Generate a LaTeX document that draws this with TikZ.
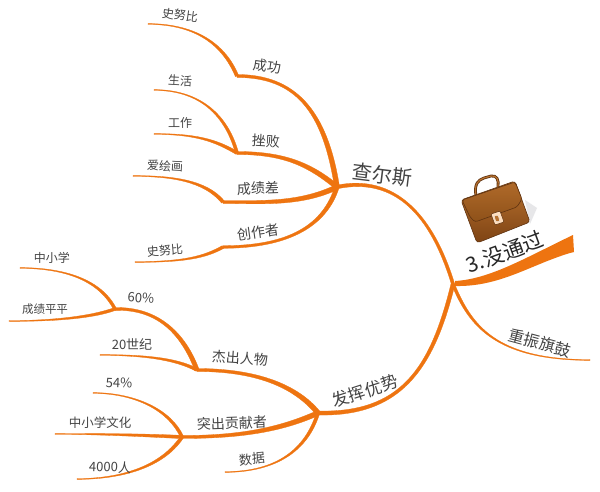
\documentclass[tikz,border=0pt]{standalone}
\usepackage{fontspec}
\setmainfont{Noto Sans CJK SC}
\usetikzlibrary{calc}
\definecolor{branch}{HTML}{EE7410}
\definecolor{txt}{HTML}{444444}
\definecolor{caseA}{HTML}{B8722F}
\definecolor{caseB}{HTML}{7E4314}
\definecolor{caseC}{HTML}{5E3210}
\definecolor{flapA}{HTML}{B06A2A}
\definecolor{flapB}{HTML}{8E5119}
\tikzset{
  lbl/.style={text=txt,inner sep=0pt,font=\fontsize{#1}{#1}\selectfont},
  branchfill/.style={fill=branch,draw=branch,line width=0.3pt,line join=round}
}
% from, control 1, control 2, to, half width at start, half width at end
\newcommand\branchline[6]{%
  \path[branchfill]
    ($(#1)!#5!90:(#2)$)
    .. controls ($(#2)!#5!-90:(#1)$) and ($(#3)!#6!90:(#4)$) .. ($(#4)!#6!-90:(#3)$)
    -- ($(#4)!#6!90:(#3)$)
    .. controls ($(#3)!#6!-90:(#4)$) and ($(#2)!#5!90:(#1)$) .. ($(#1)!#5!-90:(#2)$)
    -- cycle;}
\begin{document}
\begin{tikzpicture}[x=1pt,y=-1pt]
\useasboundingbox (0,0) rectangle (600,492);
\fill[white] (0,0) rectangle (600,492);
% junctions and free ends
\coordinate (hub) at (453,284);
\coordinate (h1) at (337,187);
\coordinate (h2) at (318,413);
\coordinate (succ) at (237,76);
\coordinate (fail) at (237,153);
\coordinate (grade) at (223,202);
\coordinate (creat) at (223,247);
\coordinate (pct) at (115,309);
\coordinate (hero) at (197,370);
\coordinate (contrib) at (182,437);
\coordinate (e1) at (148,24);
\coordinate (e2) at (154,90);
\coordinate (e3) at (154,134);
\coordinate (e4) at (133,176);
\coordinate (e5) at (135,262);
\coordinate (e6) at (20,268);
\coordinate (e7) at (9,321);
\coordinate (e8) at (100,355);
\coordinate (e9) at (93,393);
\coordinate (e10) at (55,434);
\coordinate (e11) at (77,479);
\coordinate (e12) at (225,472);
\coordinate (e13) at (590,360);
% main branches
\branchline{hub}{432,215}{395,175}{h1}{1.6pt}{1.8pt}
\branchline{hub}{432,370}{400,415}{h2}{2pt}{2pt}
\branchline{hub}{470,325}{495,360}{e13}{1.5pt}{0.4pt}
\fill[branch] (455,281) .. controls (490,279) and (525,258) .. (573,235)
  -- (574,252) -- (570,253) .. controls (530,265) and (500,287) .. (455,286) -- cycle;
% first level
\branchline{h1}{325,110}{295,76}{succ}{2.5pt}{1.5pt}
\branchline{h1}{310,165}{285,153}{fail}{2.5pt}{1.5pt}
\branchline{h1}{300,205}{260,202}{grade}{2.5pt}{1.5pt}
\branchline{h1}{325,225}{290,247}{creat}{2.2pt}{1.3pt}
\branchline{h2}{295,385}{255,370}{hero}{2.5pt}{1.5pt}
\branchline{h2}{280,430}{240,437}{contrib}{2.5pt}{1.5pt}
\branchline{h2}{305,455}{270,472}{e12}{1.7pt}{0.4pt}
\branchline{hero}{180,325}{150,308}{pct}{2.2pt}{1.4pt}
% leaves
\branchline{succ}{222,40}{190,24}{e1}{1.7pt}{0.4pt}
\branchline{fail}{225,110}{195,90}{e2}{1.6pt}{0.4pt}
\branchline{fail}{215,140}{195,134}{e3}{1.6pt}{0.4pt}
\branchline{grade}{205,180}{170,176}{e4}{1.7pt}{0.4pt}
\branchline{creat}{205,257}{185,262}{e5}{1.5pt}{0.4pt}
\branchline{pct}{100,280}{65,268}{e6}{1.5pt}{0.4pt}
\branchline{pct}{90,318}{50,321}{e7}{1.5pt}{0.4pt}
\branchline{hero}{175,358}{140,355}{e8}{1.5pt}{0.4pt}
\branchline{contrib}{170,410}{135,393}{e9}{1.6pt}{0.4pt}
\branchline{contrib}{140,435}{100,434}{e10}{1.6pt}{0.4pt}
\branchline{contrib}{160,470}{115,479}{e11}{1.7pt}{0.4pt}
% labels
\node[lbl=12,rotate=-8] (n1) at (180,15) {史努比};
\node[lbl=14,rotate=-8] (n2) at (267,66) {成功};
\node[lbl=12,rotate=-3] (n3) at (180,81) {生活};
\node[lbl=12] (n4) at (180,123) {工作};
\node[lbl=14,rotate=-3] (n5) at (266,141) {挫败};
\node[lbl=12,rotate=-3] (n6) at (165,166) {爱绘画};
\node[lbl=14,rotate=2] (n7) at (258,188) {成绩差};
\node[lbl=14,rotate=8] (n8) at (258,232) {创作者};
\node[lbl=12,rotate=5] (n9) at (165,250) {史努比};
\node[lbl=20,rotate=-7] (n10) at (382,175) {查尔斯};
\node[lbl=17,rotate=18] (n11) at (365,391) {发挥优势};
\node[lbl=21,rotate=20,text=black!85] (n12) at (505,252) {3.没通过};
\node[lbl=16,rotate=-15] (n13) at (540,343) {重振旗鼓};
\node[lbl=12] (n14) at (52,258) {中小学};
\node[lbl=11.5] (n15) at (45,309) {成绩平平};
\node[lbl=13,rotate=-4] (n16) at (141,298) {60\%};
\node[lbl=13] (n17) at (132,344) {20世纪};
\node[lbl=14,rotate=-4] (n18) at (240,358) {杰出人物};
\node[lbl=13,rotate=-2] (n19) at (119,383) {54\%};
\node[lbl=12.5] (n20) at (100,423) {中小学文化};
\node[lbl=14,rotate=2] (n21) at (232,423) {突出贡献者};
\node[lbl=13,rotate=-2] (n22) at (110,467) {4000人};
\node[lbl=13,rotate=5] (n23) at (252,459) {数据};
% briefcase
\fill[blue!6!gray!18] (525,200) -- (537,208) -- (530,224) -- cycle;
\draw[draw=caseC,line width=2.8pt,line join=round]
  (476,196) .. controls (474,184) and (478,180) .. (484,178)
  -- (491,176) .. controls (497,175) and (499,180) .. (498,187);
\draw[draw=caseA,line width=1.2pt,line join=round]
  (476,196) .. controls (474,184) and (478,180) .. (484,178)
  -- (491,176) .. controls (497,175) and (499,180) .. (498,187);
\path[draw=caseC,line width=0.6pt,rounded corners=3pt,
      top color=caseA,bottom color=caseB]
  (461,200) -- (515,181) -- (530,222) -- (477,243) -- cycle;
\path[draw=caseC,line width=0.6pt,rounded corners=2.5pt,
      top color=flapA,bottom color=flapB]
  (462,200) -- (515,182) -- (522,199) -- (517,207) -- (475,222) -- (470,217) -- cycle;
\path[fill=orange!25!white,draw=caseC,line width=0.5pt,rounded corners=1pt]
  (491,214) -- (500,211) -- (504,222) -- (495,225) -- cycle;
\path[fill=caseA,draw=white!80!brown,line width=0.5pt,rounded corners=0.8pt]
  (494,216) -- (498,215) -- (500,221) -- (496,222) -- cycle;
\end{tikzpicture}
\end{document}
